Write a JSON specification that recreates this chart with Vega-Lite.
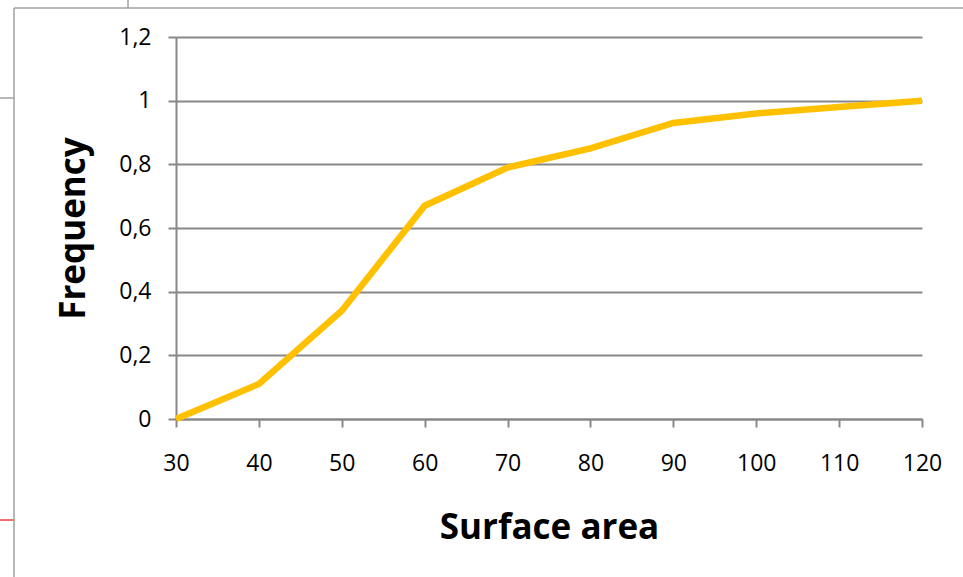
{
  "$schema": "https://vega.github.io/schema/vega-lite/v6.json",
  "width": 746,
  "height": 382,
  "autosize": {"type": "none"},
  "padding": {"left": 176, "top": 37, "right": 41, "bottom": 158},
  "background": "white",
  "config": {
    "locale": {"number": {"decimal": ",", "thousands": ".", "grouping": [3], "currency": ["", " €"]}},
    "view": {"stroke": null},
    "font": "Open Sans"
  },
  "datasets": {
    "curve": [
      {"area": 30, "freq": 0},
      {"area": 40, "freq": 0.11},
      {"area": 50, "freq": 0.34},
      {"area": 60, "freq": 0.67},
      {"area": 70, "freq": 0.79},
      {"area": 80, "freq": 0.85},
      {"area": 90, "freq": 0.93},
      {"area": 100, "freq": 0.96},
      {"area": 110, "freq": 0.98},
      {"area": 120, "freq": 1.0}
    ],
    "frame": [
      {"x": 10.46, "x2": 124.95, "y": 1.2911, "y2": 1.2911, "c": "grey"},
      {"x": 10.46, "x2": 10.46, "y": 1.2911, "y2": -0.4963, "c": "grey"},
      {"x": 24.21, "x2": 24.21, "y": 1.2911, "y2": 1.3162, "c": "grey"},
      {"x": 8.77, "x2": 10.4, "y": 1.0084, "y2": 1.0084, "c": "grey"},
      {"x": 8.77, "x2": 10.4, "y": -0.3173, "y2": -0.3173, "c": "red"}
    ]
  },
  "layer": [
    {
      "data": {"name": "frame"},
      "mark": {"type": "rule", "clip": false, "strokeWidth": 1.5},
      "encoding": {
        "x": {"field": "x", "type": "quantitative", "scale": {"domain": [30, 120], "nice": false, "zero": false, "clamp": false}},
        "x2": {"field": "x2"},
        "y": {"field": "y", "type": "quantitative", "scale": {"domain": [0, 1.2], "nice": false, "clamp": false}},
        "y2": {"field": "y2"},
        "color": {"field": "c", "type": "nominal", "scale": {"domain": ["grey", "red"], "range": ["#a0a0a0", "#e84040"]}, "legend": null}
      }
    },
    {
      "data": {"name": "curve"},
      "mark": {"type": "line", "color": "#FFC000", "strokeWidth": 6.5, "strokeJoin": "miter", "clip": false},
      "encoding": {
        "x": {
          "field": "area", "type": "quantitative",
          "scale": {"domain": [30, 120], "nice": false, "zero": false},
          "axis": {
            "title": "Surface area",
            "values": [30, 40, 50, 60, 70, 80, 90, 100, 110, 120],
            "grid": false,
            "domainColor": "#888888", "domainWidth": 2,
            "tickColor": "#888888", "tickWidth": 2, "tickSize": 8,
            "labelFontSize": 23, "labelColor": "#000000", "labelPadding": 25,
            "labelFlush": false, "labelOverlap": false, "labelBound": false,
            "titleFontSize": 35, "titleFontWeight": "bold", "titleColor": "#000000", "titlePadding": 35
          }
        },
        "y": {
          "field": "freq", "type": "quantitative",
          "scale": {"domain": [0, 1.2], "nice": false},
          "axis": {
            "title": "Frequency",
            "values": [0, 0.2, 0.4, 0.6, 0.8, 1, 1.2],
            "format": ".1~f",
            "grid": true, "gridColor": "#888888", "gridWidth": 2,
            "domainColor": "#888888", "domainWidth": 2,
            "tickColor": "#888888", "tickWidth": 2, "tickSize": 8,
            "labelFontSize": 23, "labelColor": "#000000", "labelPadding": 17,
            "labelFlush": false, "labelOverlap": false, "labelBound": false,
            "titleFontSize": 35, "titleFontWeight": "bold", "titleColor": "#000000", "titlePadding": 27
          }
        }
      }
    }
  ]
}
